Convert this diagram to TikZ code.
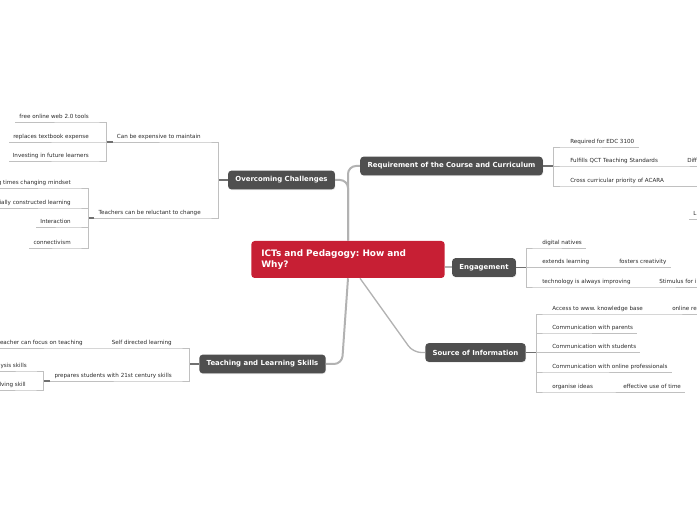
\documentclass[tikz,border=0pt]{standalone}
\usepackage{fontspec}
\setmainfont{DejaVu Sans}
\frenchspacing
\usetikzlibrary{shadows}
\definecolor{topicgray}{RGB}{79,79,79}
\definecolor{rootred}{RGB}{199,31,52}
\definecolor{railgray}{RGB}{192,192,192}
\definecolor{trunkgray}{RGB}{178,178,178}
\definecolor{stemgray}{RGB}{112,112,112}
\definecolor{subtext}{RGB}{40,40,40}

\begin{document}
\begin{tikzpicture}[x=0.75pt,y=0.75pt,yscale=-1,xscale=1,
  root/.style={fill=rootred, rounded corners=2.5pt, text=white, font=\fontsize{6.7}{8.2}\selectfont\bfseries, align=left, text width=130pt, inner xsep=7.5pt, minimum height=27.75pt},
  topic/.style={fill=topicgray, rounded corners=2.5pt, text=white, font=\fontsize{5.2}{6}\selectfont\bfseries, inner xsep=5.5pt, minimum height=14pt, drop shadow={opacity=0.18, shadow xshift=0.4pt, shadow yshift=-0.6pt}},
  subR/.style={anchor=south west, font=\fontsize{4.2}{5}\selectfont, text=subtext, inner xsep=3pt, inner ysep=1.2pt, text height=3.2pt, text depth=1.4pt},
  subL/.style={subR, anchor=south east},
  trunk/.style={draw=trunkgray, line width=1.5pt, rounded corners=6pt},
  stem/.style={draw=stemgray, line width=1.1pt},
  rail/.style={draw=railgray, line width=0.6pt}]
%set diagram frame
\useasboundingbox (0,0) rectangle (697,520);
\coordinate (lft) at (0,0);
\coordinate (rgt) at (697,0);

%Shape: Central topic
\node[root] (root) at (348,259.5) {ICTs and Pedagogy: How and\\Why?};
%Shape: Main topics
\node[topic] (oc) at (281.5,180) {Overcoming Challenges};
\node[topic] (req) at (451.5,166) {Requirement of the Course and Curriculum};
\node[topic] (eng) at (484,267.5) {Engagement};
\node[topic] (si) at (475.5,352.5) {Source of Information};
\node[topic] (tl) at (262.5,364) {Teaching and Learning Skills};

%Straight Lines: central branches
\draw[trunk] (oc.east) -| (root.north);
\draw[trunk] (req.west) -| (root.north);
\draw[trunk] (root.south) -- ([xshift=-4.5pt]root.south |- tl.east) -- (tl.east);
\draw[trunk, line width=1pt] ([xshift=9pt]root.south) -- ([xshift=-9pt]si.west) -- (si.west);
\draw[trunk] (eng.west -| root.east) -- (eng.west);

%Bracket points
\coordinate (bq) at (553,166);
\coordinate (be) at (526,267.5);
\coordinate (bs) at (536,352.5);
\coordinate (bo) at (218,180);
\coordinate (bo1) at (106,142);
\coordinate (bo2) at (88,218);
\coordinate (bt) at (189,364);
\coordinate (bt2) at (43,381);

% Text Node: requirement
\node[subR] (r1) at (566,147) {Required for EDC 3100};
\node[subR] (r2) at (566,166) {Fulfills QCT Teaching Standards};
\node[subR] (r2a) at (683,166) {Diff};
\node[subR] (r3) at (566,186) {Cross curricular priority of ACARA};
\node[subR] (r3a) at (689,219) {L};
\draw[stem] (req.east) -- (bq);
\draw[rail] (bq) |- (r1.south west) -- (r1.south east);
\draw[rail] (bq) |- (r2.south west) -- (r2a.south west) -- (r2a.south west -| rgt);
\draw[rail] (bq) |- (r3.south west) -- (r3.south west -| rgt);
\draw[rail] (r3a.south west) -- (r3a.south west -| rgt);

% Text Node: engagement
\node[subR] (e1) at (538,248) {digital natives};
\node[subR] (e2) at (538,267.5) {extends learning};
\node[subR] (e2a) at (615,267.5) {fosters creativity};
\node[subR] (e3) at (538,287) {technology is always improving};
\node[subR] (e3a) at (655,287) {Stimulus for i};
\draw[stem] (eng.east) -- (be);
\draw[rail] (be) |- (e1.south west) -- (e1.south east);
\draw[rail] (be) |- (e2.south west) -- (e2a.south east);
\draw[rail] (be) |- (e3.south west) -- (e3a.south west) -- (e3a.south west -| rgt);

% Text Node: source of information
\node[subR] (s1) at (548,314) {Access to www. knowledge base};
\node[subR] (s1a) at (668,314) {online re};
\node[subR] (s2) at (548,333) {Communication with parents};
\node[subR] (s3) at (548,352.5) {Communication with students};
\node[subR] (s4) at (548,372) {Communication with online professionals};
\node[subR] (s5) at (548,392) {organise ideas};
\node[subR] (s5a) at (619,392) {effective use of time};
\draw[stem] (si.east) -- (bs);
\draw[rail] (bs) |- (s1.south west) -- (s1a.south west) -- (s1a.south west -| rgt);
\draw[rail] (bs) |- (s2.south west) -- (s2.south east);
\draw[rail] (bs) |- (s3.south west) -- (s3.south east);
\draw[rail] (bs) |- (s4.south west) -- (s4.south east);
\draw[rail] (bs) |- (s5.south west) -- (s5a.south east);

% Text Node: overcoming challenges
\node[subL] (o1) at (205,142) {Can be expensive to maintain};
\node[subL] (o2) at (205,218) {Teachers can be reluctant to change};
\node[subL] (o11) at (93,122) {free online web 2.0 tools};
\node[subL] (o12) at (93,142) {replaces textbook expense};
\node[subL] (o13) at (93,161) {Investing in future learners};
\node[subL] (o21) at (75,188) {g times changing mindset};
\node[subL] (o22) at (75,208) {cially constructed learning};
\node[subL] (o23) at (75,227) {Interaction};
\node[subL] (o24) at (75,248) {connectivism};
\draw[stem] (oc.west) -- (bo);
\draw[rail] (bo) |- (o1.south east) -- (o1.south west);
\draw[rail] (bo) |- (o2.south east) -- (o2.south west);
\draw[stem] (o1.south west) -- (bo1);
\draw[rail] (bo1) |- (o11.south east) -- (o11.south west);
\draw[rail] (bo1) |- (o12.south east) -- (o12.south west);
\draw[rail] (bo1) |- (o13.south east) -- (o13.south west);
\draw[stem] (o2.south west) -- (bo2);
\draw[rail] (bo2) |- (o21.south east) -- (o21.south east -| lft);
\draw[rail] (bo2) |- (o22.south east) -- (o22.south east -| lft);
\draw[rail] (bo2) |- (o23.south east) -- (o23.south west);
\draw[rail] (bo2) |- (o24.south east) -- (o24.south west);

% Text Node: teaching and learning skills
\node[subL] (t1) at (176,348) {Self directed learning};
\node[subL] (t1a) at (87,348) {teacher can focus on teaching};
\node[subL] (t2) at (176,381) {prepares students with 21st century skills};
\node[subL] (t21) at (31,371) {ysis skills};
\node[subL] (t22) at (30,390) {lving skill};
\draw[stem] (tl.west) -- (bt);
\draw[rail] (bt) |- (t1.south east) -- (t1a.south east) -- (t1a.south east -| lft);
\draw[rail] (bt) |- (t2.south east) -- (t2.south west);
\draw[stem] (t2.south west) -- (bt2);
\draw[rail] (bt2) |- (t21.south east) -- (t21.south east -| lft);
\draw[rail] (bt2) |- (t22.south east) -- (t22.south east -| lft);

\end{tikzpicture}
\end{document}
